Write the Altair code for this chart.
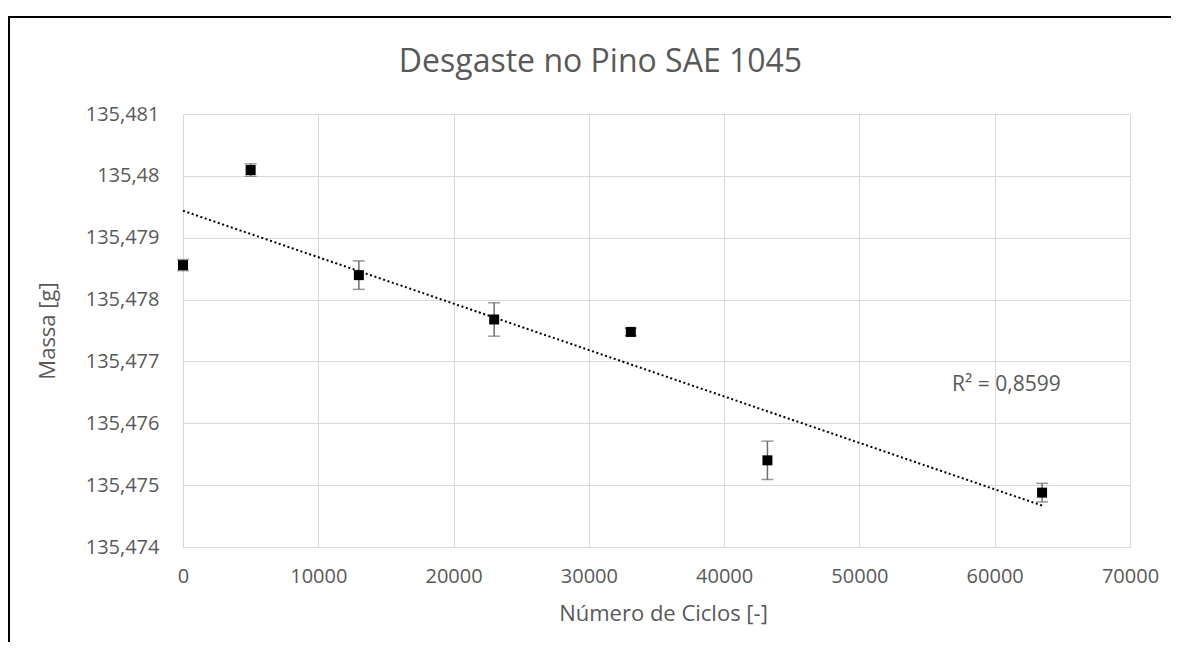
import altair as alt
import pandas as pd

# Data
ciclos = [0, 5000, 13000, 23000, 33100, 43200, 63500]
massa = [135.478557, 135.480094, 135.478395, 135.477678, 135.477477, 135.475401, 135.474879]
erro = [0.00009, 0.00010, 0.00023, 0.00027, 0.00006, 0.00031, 0.00015]

x_ticks = [0, 10000, 20000, 30000, 40000, 50000, 60000, 70000]
y_ticks = [135.474, 135.475, 135.476, 135.477, 135.478, 135.479, 135.48, 135.481]

title_text = ["Desgaste no Pino SAE 1045"]
r2_text = ["R² = 0,8599"]
r2_x = [56850]
r2_y = [135.47662]

FONT = "Open Sans"
GRAY = "#595959"
W, H = 947, 433

df = pd.DataFrame({"x": ciclos, "y": massa, "err": erro})

xscale = alt.Scale(domain=[0, 70000], nice=False, zero=False)
yscale = alt.Scale(domain=[135.474, 135.481], nice=False, zero=False)

xaxis = alt.Axis(values=x_ticks, labelExpr="format(datum.value, 'd')", title="Número de Ciclos [-]",
                 grid=True, ticks=False, labelFlush=False, labelPadding=19, titlePadding=17,
                 titleX=480)
yaxis = alt.Axis(values=y_ticks, labelExpr="replace(format(datum.value, '.6~f'), '.', ',')",
                 title="Massa [g]", grid=True, ticks=False, labelFlush=False, labelPadding=24, titlePadding=26)

base = alt.Chart(df)

points = base.mark_square(size=100, color="black", opacity=1).encode(
    x=alt.X("x:Q", scale=xscale, axis=xaxis),
    y=alt.Y("y:Q", scale=yscale, axis=yaxis),
)

err_base = base.transform_calculate(lo="datum.y - datum.err", hi="datum.y + datum.err")

err_rule = err_base.mark_rule(color="#6e6e6e", strokeWidth=1.5).encode(
    x="x:Q", y=alt.Y("lo:Q", scale=yscale), y2="hi:Q"
)
cap_lo = err_base.mark_tick(color="#6e6e6e", orient="horizontal", size=12, thickness=1.5).encode(
    x="x:Q", y=alt.Y("lo:Q", scale=yscale)
)
cap_hi = err_base.mark_tick(color="#6e6e6e", orient="horizontal", size=12, thickness=1.5).encode(
    x="x:Q", y=alt.Y("hi:Q", scale=yscale)
)

trend = base.transform_regression("x", "y").mark_line(
    color="black", strokeWidth=2, strokeDash=[2, 2.6]
).encode(x="x:Q", y=alt.Y("y:Q", scale=yscale))

r2 = alt.Chart(pd.DataFrame({"t": r2_text, "x": r2_x, "y": r2_y})).mark_text(
    align="left", baseline="middle", font=FONT, fontSize=21, color=GRAY
).encode(x="x:Q", y=alt.Y("y:Q", scale=yscale), text="t:N")

title = alt.Chart(pd.DataFrame({"t": title_text})).mark_text(
    align="center", baseline="alphabetic", font=FONT, fontSize=32, color=GRAY
).encode(x=alt.value(417.5), y=alt.value(-42), text="t:N")

one = alt.Data(values=[{"a": 1}])
border_left = alt.Chart(one).mark_rule(color="black", strokeWidth=2).encode(
    x=alt.value(-174), y=alt.value(-97), y2=alt.value(H + 120)
)
border_top = alt.Chart(one).mark_rule(color="black", strokeWidth=2).encode(
    x=alt.value(-175), x2=alt.value(W + 60), y=alt.value(-97)
)

chart = alt.layer(err_rule, cap_lo, cap_hi, trend, points, r2, title, border_left, border_top).properties(
    width=W,
    height=H,
    background="white",
    autosize=alt.AutoSizeParams(type="none"),
    padding={"left": 175, "top": 106, "right": 41, "bottom": 95},
).configure_view(stroke=None).configure_axis(
    gridColor="#d9d9d9", gridWidth=1, domainColor="#d9d9d9", domainWidth=1,
    labelFont=FONT, labelFontSize=20, labelColor=GRAY,
    titleFont=FONT, titleFontSize=22, titleColor=GRAY, titleFontWeight="normal",
)

chart.save("out.html", embed_options={"renderer": "svg", "actions": False})
